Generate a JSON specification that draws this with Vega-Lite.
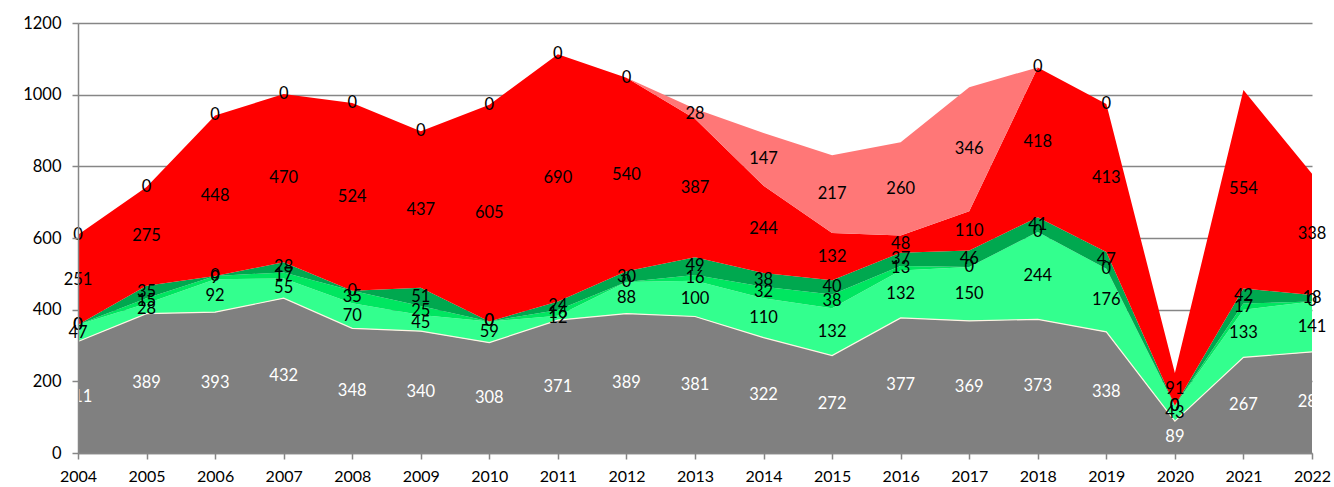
{
  "$schema": "https://vega.github.io/schema/vega-lite/v6.json",
  "width": 1234,
  "height": 430,
  "autosize": {"type": "none"},
  "padding": {"left": 78, "top": 23, "right": 22, "bottom": 34},
  "background": "white",
  "config": {"view": {"stroke": null}, "font": "Lato"},
  "data": {
    "values": [
      {"year": "2004", "A": 311, "B": 47, "C": 0, "D": 0, "E": 251, "F": 0},
      {"year": "2005", "A": 389, "B": 28, "C": 15, "D": 35, "E": 275, "F": 0},
      {"year": "2006", "A": 393, "B": 92, "C": 9, "D": 0, "E": 448, "F": 0},
      {"year": "2007", "A": 432, "B": 55, "C": 17, "D": 28, "E": 470, "F": 0},
      {"year": "2008", "A": 348, "B": 70, "C": 35, "D": 0, "E": 524, "F": 0},
      {"year": "2009", "A": 340, "B": 45, "C": 25, "D": 51, "E": 437, "F": 0},
      {"year": "2010", "A": 308, "B": 59, "C": 0, "D": 0, "E": 605, "F": 0},
      {"year": "2011", "A": 371, "B": 12, "C": 16, "D": 24, "E": 690, "F": 0},
      {"year": "2012", "A": 389, "B": 88, "C": 0, "D": 30, "E": 540, "F": 0},
      {"year": "2013", "A": 381, "B": 100, "C": 16, "D": 49, "E": 387, "F": 28},
      {"year": "2014", "A": 322, "B": 110, "C": 32, "D": 38, "E": 244, "F": 147},
      {"year": "2015", "A": 272, "B": 132, "C": 38, "D": 40, "E": 132, "F": 217},
      {"year": "2016", "A": 377, "B": 132, "C": 13, "D": 37, "E": 48, "F": 260},
      {"year": "2017", "A": 369, "B": 150, "C": 0, "D": 46, "E": 110, "F": 346},
      {"year": "2018", "A": 373, "B": 244, "C": 0, "D": 41, "E": 418, "F": 0},
      {"year": "2019", "A": 338, "B": 176, "C": 0, "D": 47, "E": 413, "F": 0},
      {"year": "2020", "A": 89, "B": 43, "C": 0, "D": 0, "E": 91, "F": null},
      {"year": "2021", "A": 267, "B": 133, "C": 17, "D": 42, "E": 554, "F": null},
      {"year": "2022", "A": 282, "B": 141, "C": 0, "D": 18, "E": 338, "F": null}
    ]
  },
  "transform": [
    {"fold": ["A", "B", "C", "D", "E", "F"], "as": ["s", "v"]},
    {"stack": "v", "groupby": ["year"], "sort": [{"field": "s", "order": "ascending"}], "as": ["y0", "y1"]},
    {"calculate": "(datum.y0 + datum.y1) / 2", "as": "ym"}
  ],
  "encoding": {
    "x": {
      "field": "year",
      "type": "ordinal",
      "scale": {"type": "point", "padding": 0},
      "axis": {
        "title": null,
        "labelAngle": 0,
        "labelFontSize": 16,
        "labelColor": "#000000",
        "labelPadding": 9,
        "domainColor": "#868686",
        "domainWidth": 1.5,
        "tickColor": "#868686",
        "tickWidth": 1.5,
        "tickSize": 6,
        "grid": false,
        "zindex": 1
      }
    }
  },
  "resolve": {"axis": {"y": "independent"}},
  "layer": [
    {
      "mark": {"type": "area", "interpolate": "linear"},
      "encoding": {
        "y": {
          "field": "y1",
          "type": "quantitative",
          "scale": {"domain": [0, 1200], "nice": false},
          "axis": {
            "orient": "left",
            "title": null,
            "values": [0, 200, 400, 600, 800, 1000, 1200],
            "grid": true,
            "gridColor": "#868686",
            "gridWidth": 1.5,
            "domain": false,
            "ticks": false,
            "labels": false,
            "zindex": 0
          }
        },
        "y2": {"field": "y0"},
        "color": {
          "field": "s",
          "type": "nominal",
          "scale": {
            "domain": ["A", "B", "C", "D", "E", "F"],
            "range": ["#808080", "#33FF8E", "#00E660", "#00A84F", "#FF0000", "#FF7777"]
          },
          "legend": null
        }
      }
    },
    {
      "mark": {"type": "line", "color": "#FFF4E4", "strokeWidth": 1.2},
      "transform": [{"filter": "datum.s === 'A'"}],
      "encoding": {
        "y": {"field": "y1", "type": "quantitative", "axis": null}
      }
    },
    {
      "mark": {"type": "text", "fontSize": 16.5, "baseline": "middle", "align": "center"},
      "transform": [{"filter": "datum.v != null"}],
      "encoding": {
        "y": {
          "field": "ym",
          "type": "quantitative",
          "axis": {
            "orient": "left",
            "title": null,
            "values": [0, 200, 400, 600, 800, 1000, 1200],
            "format": "d",
            "grid": false,
            "domain": true,
            "domainColor": "#868686",
            "domainWidth": 1.5,
            "ticks": true,
            "tickColor": "#868686",
            "tickWidth": 1.5,
            "tickSize": 6,
            "labelFontSize": 16.5,
            "labelColor": "#000000",
            "labelPadding": 11,
            "zindex": 1
          }
        },
        "text": {"field": "v", "type": "quantitative"},
        "color": {"condition": {"test": "datum.s === 'A'", "value": "#FFFFFF"}, "value": "#000000"}
      }
    }
  ]
}
